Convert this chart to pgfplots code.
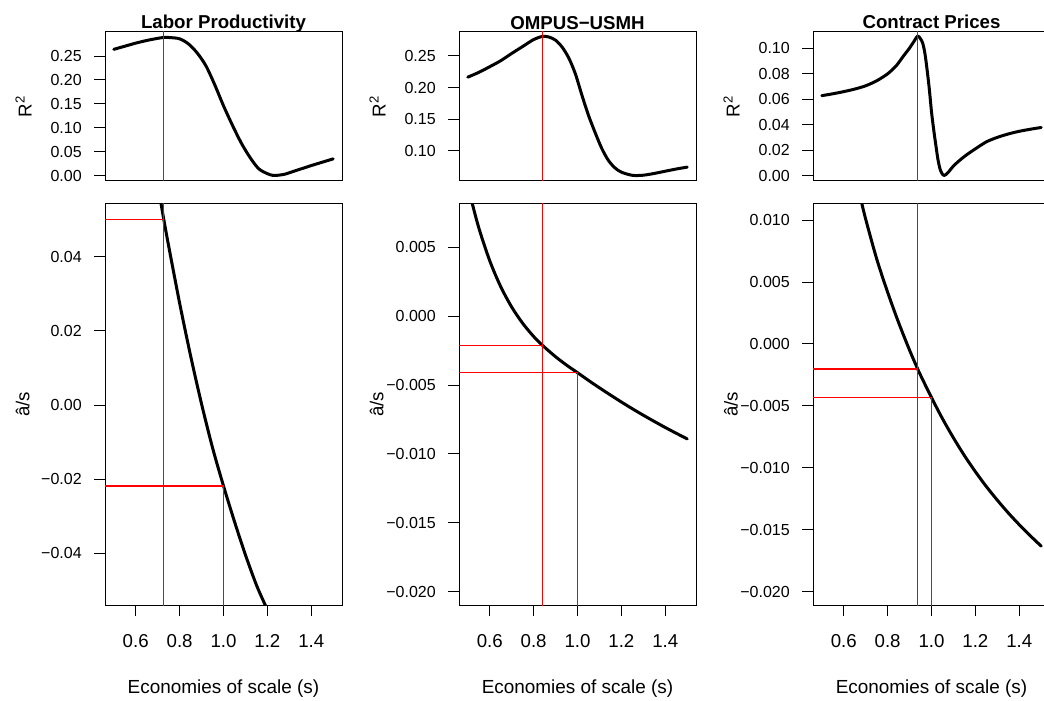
\documentclass[border=0pt]{standalone}
\usepackage{fontspec}
\setmainfont{Liberation Sans}
\usepackage{pgfplots}
\pgfplotsset{compat=1.18}

\pgfplotsset{
  rpanel/.style={
    scale only axis,
    width=177.75pt,
    xmin=0.46, xmax=1.54,
    scaled x ticks=false, scaled y ticks=false,
    axis line style={line width=0.75pt},
    tick align=outside,
    tick pos=left,
    major tick length=8.25pt,
    every tick/.style={black, line width=0.75pt},
    /pgf/number format/assume math mode=true,
    yticklabel style={font=\fontsize{12}{14}\selectfont, inner sep=0pt, anchor=east},
    yticklabel shift=9pt,
    xticklabel style={font=\fontsize{14}{16}\selectfont, inner sep=0pt, anchor=north},
    xticklabel shift=13.7pt,
    every axis title/.style={at={(axis description cs:0.5,1.0201)}, anchor=base,
      inner sep=0pt, font=\fontsize{14}{16}\selectfont\bfseries},
    every axis y label/.style={at={(axis description cs:-0.310,0.5)}, rotate=90,
      anchor=base, inner sep=0pt, font=\fontsize{14}{16}\selectfont},
    every axis x label/.style={at={(axis description cs:0.5,-0.2202)}, anchor=base,
      inner sep=0pt, font=\fontsize{14.2}{16}\selectfont},
  },
  rtop/.style={rpanel, height=111.75pt, xtick=\empty, ylabel={R\textsuperscript{2}}},
  rlow/.style={rpanel, height=300.75pt,
    xtick={0.6,0.8,1.0,1.2,1.4}, xticklabels={0.6,0.8,1.0,1.2,1.4},
    xlabel={Economies of scale (s)}, ylabel={â/s},
    every axis y label/.append style={at={(axis description cs:-0.3186,0.5)}}},
  rcurve/.style={black, line width=2.25pt, smooth, line join=round, line cap=round},
  rguide/.style={color=red, line width=1.0pt},
}

\begin{document}
\begin{tikzpicture}

% ---------------- Labor Productivity ----------------
\begin{axis}[rtop, at={(78.75pt,389.25pt)}, anchor=south west,
  title={Labor Productivity},
  ymin=-0.0113, ymax=0.3003,
  ytick={0,0.05,0.10,0.15,0.20,0.25},
  yticklabels={0.00,0.05,0.10,0.15,0.20,0.25}]
\addplot[rcurve] coordinates {
  (0.50,0.2640)(0.55,0.2705)(0.60,0.2770)(0.65,0.2825)(0.70,0.2870)(0.73,0.2889)
  (0.76,0.2885)(0.80,0.2860)(0.84,0.2755)(0.88,0.2565)(0.92,0.2295)(0.96,0.1900)
  (1.00,0.1460)(1.04,0.1060)(1.08,0.0690)(1.12,0.0385)(1.16,0.0145)(1.20,0.0040)
  (1.225,0.0005)(1.25,0.0008)(1.28,0.0030)(1.32,0.0090)(1.36,0.0150)(1.40,0.0210)
  (1.45,0.0280)(1.50,0.0350)};
\addplot[rguide] coordinates {(0.728,-0.1)(0.728,0.5)};
\end{axis}

\begin{axis}[rlow, at={(78.75pt,71.25pt)}, anchor=south west,
  ymin=-0.0539, ymax=0.0542,
  ytick={-0.04,-0.02,0,0.02,0.04},
  yticklabels={−0.04,−0.02,0.00,0.02,0.04}]
\addplot[rcurve] coordinates {
  (0.70,0.0594)(0.71,0.0561)(0.728,0.0500)(0.75,0.0429)(0.80,0.0275)(0.85,0.0133)
  (0.90,0.0003)(0.95,-0.0115)(1.00,-0.0218)(1.05,-0.0314)(1.10,-0.0404)
  (1.15,-0.0485)(1.19,-0.0539)(1.20,-0.0553)(1.22,-0.0580)};
\addplot[rguide] coordinates {(0.728,-0.1)(0.728,0.1)};
\addplot[rguide] coordinates {(0.40,0.0500)(0.728,0.0500)};
\addplot[rguide] coordinates {(0.40,-0.0218)(1.0,-0.0218)(1.0,-0.1)};
\end{axis}

% ---------------- OMPUS-USMH ----------------
\begin{axis}[rtop, at={(344.25pt,389.25pt)}, anchor=south west,
  title={OMPUS−USMH},
  ymin=0.052, ymax=0.288,
  ytick={0.10,0.15,0.20,0.25},
  yticklabels={0.10,0.15,0.20,0.25}]
\addplot[rcurve] coordinates {
  (0.50,0.2165)(0.55,0.2240)(0.60,0.2330)(0.65,0.2425)(0.70,0.2540)(0.75,0.2650)
  (0.80,0.2760)(0.84,0.2810)(0.87,0.2800)(0.90,0.2750)(0.93,0.2640)(0.96,0.2470)
  (0.99,0.2220)(1.02,0.1880)(1.05,0.1560)(1.08,0.1290)(1.11,0.1040)(1.14,0.0850)
  (1.17,0.0730)(1.20,0.0660)(1.25,0.0610)(1.30,0.0612)(1.35,0.0640)(1.40,0.0675)
  (1.45,0.0710)(1.50,0.0740)};
\addplot[rguide] coordinates {(0.84,0)(0.84,0.5)};
\end{axis}

\begin{axis}[rlow, at={(344.25pt,71.25pt)}, anchor=south west,
  ymin=-0.02097, ymax=0.00815,
  ytick={-0.020,-0.015,-0.010,-0.005,0,0.005},
  yticklabels={−0.020,−0.015,−0.010,−0.005,0.000,0.005}]
\addplot[rcurve] coordinates {
  (0.50,0.00950)(0.51,0.00883)(0.55,0.00643)(0.60,0.00403)(0.65,0.00215)
  (0.70,0.00067)(0.75,-0.00051)(0.80,-0.00147)(0.84,-0.00211)(0.90,-0.00294)
  (0.95,-0.00355)(1.00,-0.00410)(1.05,-0.00466)(1.10,-0.00520)(1.15,-0.00572)
  (1.20,-0.00623)(1.25,-0.00672)(1.30,-0.00719)(1.35,-0.00764)(1.40,-0.00808)
  (1.45,-0.00850)(1.50,-0.00891)};
\addplot[rguide] coordinates {(0.84,-0.03)(0.84,0.02)};
\addplot[rguide] coordinates {(0.40,-0.00211)(0.84,-0.00211)};
\addplot[rguide] coordinates {(0.40,-0.00410)(1.0,-0.00410)(1.0,-0.03)};
\end{axis}

% ---------------- Contract Prices ----------------
\begin{axis}[rtop, at={(609.75pt,389.25pt)}, anchor=south west,
  title={Contract Prices},
  ymin=-0.0043, ymax=0.1129,
  ytick={0,0.02,0.04,0.06,0.08,0.10},
  yticklabels={0.00,0.02,0.04,0.06,0.08,0.10}]
\addplot[rcurve] coordinates {
  (0.50,0.0628)(0.55,0.0643)(0.60,0.0660)(0.65,0.0680)(0.70,0.0706)(0.75,0.0745)
  (0.80,0.0800)(0.84,0.0865)(0.87,0.0935)(0.90,0.1003)(0.92,0.1055)(0.937,0.1097)
  (0.95,0.1075)(0.96,0.1040)(0.97,0.0960)(0.98,0.0830)(0.99,0.0680)(1.00,0.0500)
  (1.01,0.0360)(1.02,0.0235)(1.03,0.0120)(1.04,0.0045)(1.05,0.0010)(1.057,0.0000)
  (1.065,0.0007)(1.08,0.0033)(1.10,0.0075)(1.13,0.0122)(1.16,0.0163)(1.20,0.0210)
  (1.25,0.0265)(1.30,0.0300)(1.35,0.0327)(1.40,0.0348)(1.45,0.0364)(1.50,0.0378)};
\addplot[rguide] coordinates {(0.937,-0.1)(0.937,0.3)};
\end{axis}

\begin{axis}[rlow, at={(609.75pt,71.25pt)}, anchor=south west,
  ymin=-0.02107, ymax=0.0113,
  ytick={-0.020,-0.015,-0.010,-0.005,0,0.005,0.010},
  yticklabels={−0.020,−0.015,−0.010,−0.005,0.000,0.005,0.010}]
\addplot[rcurve] coordinates {
  (0.68,0.01152)(0.70,0.01008)(0.75,0.00688)(0.80,0.00418)(0.85,0.00173)
  (0.90,-0.00050)(0.937,-0.00202)(0.95,-0.00252)(1.00,-0.00433)(1.05,-0.00603)
  (1.10,-0.00758)(1.15,-0.00901)(1.20,-0.01031)(1.25,-0.01151)(1.30,-0.01261)
  (1.35,-0.01364)(1.40,-0.01459)(1.45,-0.01548)(1.50,-0.01632)};
\addplot[rguide] coordinates {(0.937,-0.03)(0.937,0.02)};
\addplot[rguide] coordinates {(0.40,-0.00202)(0.937,-0.00202)};
\addplot[rguide] coordinates {(0.40,-0.00433)(1.0,-0.00433)(1.0,-0.03)};
\end{axis}

\pgfresetboundingbox
\path[use as bounding box] (0pt,0pt) rectangle (783pt,525pt);
\end{tikzpicture}
\end{document}
